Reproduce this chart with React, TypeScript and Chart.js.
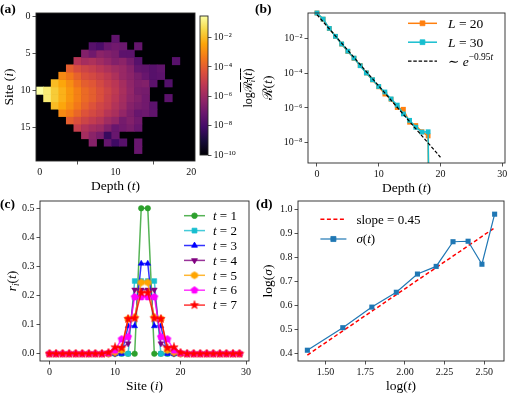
import React, { useEffect, useRef } from 'react';
import { Chart, registerables } from 'chart.js';
import { drawPoint } from 'chart.js/helpers';

Chart.register(...registerables);

// ================= DATA =================
// Panel (a): heatmap of log10 R_i(t); rows = site i, columns = depth t; null = below 1e-10
const N = null;
const depthCols = [0, 1, 2, 3, 4, 5, 6, 7, 8, 9, 10, 11, 12, 13, 14, 15, 16, 17, 18, 19, 20];
const siteRows = [0, 1, 2, 3, 4, 5, 6, 7, 8, 9, 10, 11, 12, 13, 14, 15, 16, 17, 18, 19];
const heatLog10: (number | null)[][] = [
  [N, N, N, N, N, N, N, N, N, N, N, N, N, N, N, N, N, N, N, N, N],
  [N, N, N, N, N, N, N, N, N, N, N, N, N, N, N, N, N, N, N, N, N],
  [N, N, N, N, N, N, N, N, N, N, N, N, N, N, N, N, N, N, N, N, N],
  [N, N, N, N, N, N, N, N, N, N, -7.4, N, N, N, N, N, N, N, N, N, N],
  [N, N, N, N, N, N, N, -7.6, -7.9, -7.2, -7.0, -7.1, N, -7.3, N, N, N, N, N, N, N],
  [N, N, N, N, N, N, -6.6, -7.0, -6.4, -6.6, -6.8, -7.5, -7.5, N, N, N, N, N, N, N, N],
  [N, N, N, N, N, -5.4, -5.8, -5.6, -5.9, -6.2, -6.6, -6.4, -6.9, -7.6, N, N, N, N, -7.6, N, N],
  [N, N, N, N, -4.0, -4.5, -4.8, -5.0, -5.3, -5.6, -5.9, -6.1, -6.5, -7.3, -7.4, -7.6, -7.4, N, N, N, N],
  [N, N, N, -3.0, -3.4, -3.9, -4.4, -4.6, -4.9, -5.2, -5.6, -6.1, -6.4, -6.8, -7.2, -7.6, -7.5, N, N, N, N],
  [N, N, -2.0, -2.4, -2.9, -3.5, -4.0, -4.2, -4.6, -5.0, -5.3, -5.8, -6.3, -6.7, -6.6, -7.5, N, -7.7, N, N, N],
  [-0.52, -1.0, -1.7, -2.2, -2.7, -3.2, -3.7, -4.0, -4.4, -4.8, -5.2, -5.7, -6.2, -6.8, -6.9, N, N, N, N, N, N],
  [N, -1.0, -1.7, -2.2, -2.7, -3.2, -3.7, -4.0, -4.4, -4.9, -5.3, -5.8, -6.3, -6.6, -7.0, N, N, -7.5, N, N, N],
  [N, N, -2.0, -2.4, -2.9, -3.4, -3.9, -4.3, -4.7, -5.0, -5.5, -5.9, -6.5, -6.8, -7.0, -7.5, N, N, N, N, N],
  [N, N, N, -3.0, -3.3, -3.8, -4.3, -4.6, -4.9, -5.4, -5.7, -6.2, -6.7, -7.2, -7.1, -7.4, N, N, N, N, N],
  [N, N, N, N, -4.0, -4.4, -4.8, -5.1, -5.4, -5.9, -6.2, -6.9, -6.6, -7.0, N, N, N, N, N, N, N],
  [N, N, N, N, N, -5.0, -5.5, -5.8, -6.0, -6.6, -7.2, -7.0, -6.8, -7.2, N, N, N, N, N, N, N],
  [N, N, N, N, N, N, -5.8, -6.4, -6.8, -8.3, -7.2, N, N, N, N, N, N, N, N, N, N],
  [N, N, N, N, N, N, N, -6.5, N, -7.3, -8.2, -7.6, N, -7.2, N, N, N, N, N, N, N],
  [N, N, N, N, N, N, N, N, N, N, N, N, N, -7.2, N, N, N, N, N, N, N],
  [N, N, N, N, N, N, N, N, N, N, N, N, N, N, N, N, N, N, N, N, N],
];
const heatXTicks = [0, 10, 20];
const heatYTicks = [0, 5, 10, 15];
const cbarMin = 1e-10;
const cbarMax = 0.3;
const cbarTicks = [1e-10, 1e-8, 1e-6, 1e-4, 1e-2];

// Panel (b): R(t)
const depthT = [0, 1, 2, 3, 4, 5, 6, 7, 8, 9, 10, 11, 12, 13, 14, 15, 16, 17, 18, 19];
const rL20 = [0.309, 0.135, 0.0389, 0.0138, 4.9e-3, 1.86e-3, 7.41e-4, 2.82e-4, 1.05e-4, 4.17e-5, 1.66e-5, 6.31e-6, 3.16e-6, 1.05e-6, 8.32e-7, 1.48e-7, 9.55e-8, 4.17e-8, 2.4e-8, 0];
const rL30 = [0.309, 0.138, 0.0398, 0.0138, 5.01e-3, 1.91e-3, 7.59e-4, 2.75e-4, 1.05e-4, 4.27e-5, 1.74e-5, 8.32e-6, 3.31e-6, 1.45e-6, 4.47e-7, 1.91e-7, 7.59e-8, 3.98e-8, 4.17e-8, 0];
const fitT = [0, 20];
const fitR = [0.25, 1.4e-9];
const bXTicks = [0, 10, 20, 30];
const bYTicks = [1e-8, 1e-6, 1e-4, 1e-2];

// Panel (c): r_i(t)
const sites = [0, 1, 2, 3, 4, 5, 6, 7, 8, 9, 10, 11, 12, 13, 14, 15, 16, 17, 18, 19, 20, 21, 22, 23, 24, 25, 26, 27, 28, 29];
const rT1 = [0, 0, 0, 0, 0, 0, 0, 0, 0, 0, 0, 0, 0, 0, 0.5, 0.5, 0, 0, 0, 0, 0, 0, 0, 0, 0, 0, 0, 0, 0, 0];
const rT2 = [0, 0, 0, 0, 0, 0, 0, 0, 0, 0, 0, 0, 0, 0.25, 0.25, 0.25, 0.25, 0, 0, 0, 0, 0, 0, 0, 0, 0, 0, 0, 0, 0];
const rT3 = [0, 0, 0, 0, 0, 0, 0, 0, 0, 0, 0, 0, 0.095, 0.095, 0.31, 0.31, 0.095, 0.095, 0, 0, 0, 0, 0, 0, 0, 0, 0, 0, 0, 0];
const rT4 = [0, 0, 0, 0, 0, 0, 0, 0, 0, 0, 0, 0.02, 0.035, 0.22, 0.22, 0.22, 0.22, 0.035, 0.02, 0, 0, 0, 0, 0, 0, 0, 0, 0, 0, 0];
const rT5 = [0, 0, 0, 0, 0, 0, 0, 0, 0, 0, 0.005, 0.012, 0.12, 0.125, 0.245, 0.245, 0.125, 0.12, 0.012, 0.005, 0, 0, 0, 0, 0, 0, 0, 0, 0, 0];
const rT6 = [0, 0, 0, 0, 0, 0, 0, 0, 0, 0.002, 0.012, 0.05, 0.058, 0.195, 0.195, 0.195, 0.195, 0.058, 0.05, 0.012, 0.002, 0, 0, 0, 0, 0, 0, 0, 0, 0];
const rT7 = [0, 0, 0, 0, 0, 0, 0, 0, 0, 0.004, 0.022, 0.02, 0.12, 0.122, 0.21, 0.21, 0.122, 0.12, 0.02, 0.022, 0.004, 0, 0, 0, 0, 0, 0, 0, 0, 0];
const cXTicks = [0, 10, 20, 30];
const cYTicks = [0, 0.1, 0.2, 0.3, 0.4, 0.5];

// Panel (d): log(sigma) vs log(t)
const logT = [1.386, 1.609, 1.792, 1.946, 2.079, 2.197, 2.303, 2.398, 2.485, 2.565];
const logSigma = [0.413, 0.507, 0.593, 0.655, 0.731, 0.763, 0.866, 0.868, 0.772, 0.981];
const slopeX = [1.386, 2.565];
const slopeY = [0.393, 0.924];
const dXTicks = [1.5, 1.75, 2.0, 2.25, 2.5];
const dYTicks = [0.4, 0.5, 0.6, 0.7, 0.8, 0.9, 1.0];

// ================= STYLE / HELPERS =================
const FONT = '"Liberation Serif", "DejaVu Serif", serif';
const INFERNO = ['#000004', '#160b39', '#420a68', '#6a176e', '#932667', '#bc3754', '#dd513a', '#f37819', '#fca50a', '#f6d746', '#fcffa4'];

function hexToRgb(h: string) {
  return [parseInt(h.slice(1, 3), 16), parseInt(h.slice(3, 5), 16), parseInt(h.slice(5, 7), 16)];
}
function inferno(t: number) {
  const tt = Math.max(0, Math.min(1, t));
  const s = tt * 10;
  const i = Math.min(9, Math.floor(s));
  const f = s - i;
  const a = hexToRgb(INFERNO[i]);
  const b = hexToRgb(INFERNO[i + 1]);
  const c = a.map((v, k) => Math.round(v + (b[k] - v) * f));
  return `rgb(${c[0]},${c[1]},${c[2]})`;
}
const lmin = Math.log10(cbarMin);
const lmax = Math.log10(cbarMax);
const normLog = (l: number) => (l - lmin) / (lmax - lmin);

const SUP: Record<string, string> = { '-': '⁻', '0': '⁰', '1': '¹', '2': '²', '3': '³', '4': '⁴', '5': '⁵', '6': '⁶', '7': '⁷', '8': '⁸', '9': '⁹' };
const pow10Label = (v: number) => '10' + String(Math.round(Math.log10(v))).split('').map((c) => SUP[c]).join('');

type Part = { t: string; it?: boolean; sup?: boolean };
function drawRich(ctx: CanvasRenderingContext2D, parts: Part[], x: number, yBase: number, size: number) {
  let cx = x;
  ctx.textBaseline = 'alphabetic';
  ctx.textAlign = 'left';
  for (const p of parts) {
    const fs = p.sup ? size * 0.7 : size;
    ctx.font = `${p.it ? 'italic ' : ''}${fs}px ${FONT}`;
    ctx.fillText(p.t, cx, yBase + (p.sup ? -size * 0.4 : 0));
    cx += ctx.measureText(p.t).width;
  }
}

type LegendItem = { parts: Part[]; color: string; width: number; dash?: number[]; marker?: { style: any; radius: number; rotation?: number; color: string } };
function legendPlugin(items: LegendItem[], cfg: { x0: number; x1: number; xt: number; y0: number; dy: number; size: number }) {
  return {
    id: 'customLegend',
    afterDatasetsDraw(chart: any) {
      const { ctx, chartArea: a } = chart;
      ctx.save();
      items.forEach((it, i) => {
        const y = a.top + cfg.y0 + i * cfg.dy;
        ctx.strokeStyle = it.color;
        ctx.lineWidth = it.width;
        ctx.setLineDash(it.dash || []);
        ctx.beginPath();
        ctx.moveTo(a.left + cfg.x0, y);
        ctx.lineTo(a.left + cfg.x1, y);
        ctx.stroke();
        ctx.setLineDash([]);
        if (it.marker) {
          ctx.fillStyle = it.marker.color;
          ctx.strokeStyle = it.marker.color;
          ctx.lineWidth = 0.8;
          drawPoint(ctx, { pointStyle: it.marker.style, radius: it.marker.radius, rotation: it.marker.rotation || 0, borderWidth: 0.8 } as any, a.left + (cfg.x0 + cfg.x1) / 2, y);
        }
        ctx.fillStyle = '#000';
        drawRich(ctx, it.parts, a.left + cfg.xt, y + cfg.size * 0.33, cfg.size);
      });
      ctx.restore();
    },
  };
}

const framePlugin = {
  id: 'frame',
  afterDraw(chart: any) {
    const { ctx, chartArea: a } = chart;
    ctx.save();
    ctx.strokeStyle = '#262626';
    ctx.lineWidth = 0.9;
    ctx.strokeRect(a.left, a.top, a.right - a.left, a.bottom - a.top);
    ctx.restore();
  },
};

function polyMarker(color: string, n: number, rOuter: number, rInner = 0) {
  const size = 10;
  const cv = document.createElement('canvas');
  cv.width = size;
  cv.height = size;
  const g = cv.getContext('2d')!;
  g.fillStyle = color;
  g.strokeStyle = color;
  g.lineWidth = 0.6;
  const pts = rInner ? 2 * n : n;
  g.beginPath();
  for (let k = 0; k < pts; k++) {
    const r = rInner && k % 2 ? rInner : rOuter;
    const ang = -Math.PI / 2 + (k * 2 * Math.PI) / pts;
    const px = size / 2 + r * Math.cos(ang);
    const py = size / 2 + r * Math.sin(ang);
    if (k) g.lineTo(px, py);
    else g.moveTo(px, py);
  }
  g.closePath();
  g.fill();
  g.stroke();
  return cv;
}

const tickFont = { family: FONT, size: 10 };
function axis(extra: any, ticksVals: number[], fmt: (v: number) => string, fitKey: 'width' | 'height', fitVal: number) {
  return {
    ...extra,
    afterBuildTicks: (s: any) => {
      s.ticks = ticksVals.map((v) => ({ value: v }));
    },
    afterFit: (s: any) => {
      s[fitKey] = fitVal;
    },
    ticks: { font: tickFont, color: '#111', padding: 2, autoSkip: false, maxRotation: 0, callback: (v: any) => fmt(Number(v)) },
    grid: { display: true, drawOnChartArea: false, drawTicks: true, tickLength: 3.5, color: '#262626', lineWidth: 0.8 },
    border: { display: false },
  };
}

// Frames (page coords): [left, top, right, bottom]
const FA = [36, 13, 195, 161];
const FCB = [200, 16, 208, 157];
const FB = [308, 13, 505, 163];
const FC = [40, 201, 249, 361];
const FD = [298, 201, 504, 361];

type Box = { left: number; top: number; width: number; height: number; pad: { left: number; top: number; right: number; bottom: number } };
function box(f: number[], padL: number, padT: number, padR: number, padB: number): Box {
  return { left: f[0] - padL, top: f[1] - padT, width: f[2] - f[0] + padL + padR, height: f[3] - f[1] + padT + padB, pad: { left: padL, top: padT, right: padR, bottom: padB } };
}
const BA = box(FA, 36, 8, 12, 22);
const BCB = box(FCB, 4, 8, 40, 6);
const BB = box(FB, 40, 8, 9, 22);
const BC = box(FC, 38, 8, 10, 22);
const BD = box(FD, 40, 8, 10, 22);

const baseOpts = {
  responsive: false,
  animation: false as const,
  devicePixelRatio: 1,
  plugins: { legend: { display: false }, tooltip: { enabled: false } },
  events: [] as any[],
};

const withAlpha = (hex: string, a: number) => {
  const c = hexToRgb(hex);
  return `rgba(${c[0]},${c[1]},${c[2]},${a})`;
};

export default function App() {
  const refA = useRef<HTMLCanvasElement>(null);
  const refCB = useRef<HTMLCanvasElement>(null);
  const refB = useRef<HTMLCanvasElement>(null);
  const refC = useRef<HTMLCanvasElement>(null);
  const refD = useRef<HTMLCanvasElement>(null);

  useEffect(() => {
    Chart.defaults.font.family = FONT;
    const charts: Chart[] = [];

    // ---------- (a) heatmap ----------
    const heatDatasets: any[] = [];
    heatLog10.forEach((row, r) => {
      const data: any[] = [];
      const colors: string[] = [];
      row.forEach((v, c) => {
        if (v === null) return;
        data.push({ x: depthCols[c], y: [siteRows[r] - 0.5, siteRows[r] + 0.5] });
        colors.push(inferno(normLog(v)));
      });
      if (data.length) {
        heatDatasets.push({ data, backgroundColor: colors, borderWidth: 0, grouped: false, barPercentage: 1, categoryPercentage: 1 });
      }
    });
    const blackBg = {
      id: 'blackBg',
      beforeDatasetsDraw(chart: any) {
        const { ctx, chartArea: a } = chart;
        ctx.save();
        ctx.fillStyle = '#000004';
        ctx.fillRect(a.left, a.top, a.right - a.left, a.bottom - a.top);
        ctx.restore();
      },
    };
    charts.push(
      new Chart(refA.current!, {
        type: 'bar',
        data: { datasets: heatDatasets },
        options: {
          ...baseOpts,
          layout: { padding: { left: 0, top: BA.pad.top, right: BA.pad.right, bottom: 0 } },
          scales: {
            x: axis({ type: 'linear', min: -0.5, max: 20.5, offset: false }, heatXTicks, (v) => String(v), 'height', BA.pad.bottom),
            y: axis({ type: 'linear', min: -0.5, max: 19.5, reverse: true }, heatYTicks, (v) => String(v), 'width', BA.pad.left),
          },
        } as any,
        plugins: [blackBg, framePlugin],
      })
    );

    // ---------- colorbar ----------
    const gradPlugin = {
      id: 'grad',
      beforeDatasetsDraw(chart: any) {
        const { ctx, chartArea: a } = chart;
        const g = ctx.createLinearGradient(0, a.bottom, 0, a.top);
        INFERNO.forEach((c, i) => g.addColorStop(i / 10, c));
        ctx.save();
        ctx.fillStyle = g;
        ctx.fillRect(a.left, a.top, a.right - a.left, a.bottom - a.top);
        ctx.restore();
      },
    };
    charts.push(
      new Chart(refCB.current!, {
        type: 'scatter',
        data: { datasets: [{ data: [] }] },
        options: {
          ...baseOpts,
          layout: { padding: { left: BCB.pad.left, top: BCB.pad.top, right: 0, bottom: BCB.pad.bottom } },
          scales: {
            x: { display: false, min: 0, max: 1 },
            y: axis({ type: 'logarithmic', position: 'right', min: cbarMin, max: cbarMax }, cbarTicks, pow10Label, 'width', BCB.pad.right),
          },
        } as any,
        plugins: [gradPlugin, framePlugin],
      })
    );

    // ---------- (b) R(t) ----------
    const clipZero = (v: number) => (v > 0 ? v : 1e-40);
    const sq = (color: string) => ({ style: 'rect', radius: 3.4, color });
    charts.push(
      new Chart(refB.current!, {
        type: 'line',
        data: {
          datasets: [
            {
              data: depthT.map((t, i) => ({ x: t, y: clipZero(rL20[i]) })),
              borderColor: '#ff7f0e', backgroundColor: '#ff7f0e', borderWidth: 1.5,
              pointStyle: 'rect', pointRadius: rL20.map((v) => (v > 0 ? 3.4 : 0)), pointBorderWidth: 0,
              order: 0, clip: { left: 5, top: 5, right: 5, bottom: 0 },
            },
            {
              data: depthT.map((t, i) => ({ x: t, y: clipZero(rL30[i]) })),
              borderColor: '#17becf', backgroundColor: '#17becf', borderWidth: 1.5,
              pointStyle: 'rect', pointRadius: rL30.map((v) => (v > 0 ? 3.4 : 0)), pointBorderWidth: 0,
              order: -1, clip: { left: 5, top: 5, right: 5, bottom: 0 },
            },
            {
              data: fitT.map((t, i) => ({ x: t, y: fitR[i] })),
              borderColor: '#000', borderWidth: 1.2, borderDash: [3.5, 1.8], pointRadius: 0, order: -2,
            },
          ],
        },
        options: {
          ...baseOpts,
          layout: { padding: { left: 0, top: BB.pad.top, right: BB.pad.right, bottom: 0 } },
          scales: {
            x: axis({ type: 'linear', min: -1.45, max: 30.45 }, bXTicks, (v) => String(v), 'height', BB.pad.bottom),
            y: axis({ type: 'logarithmic', min: 6.5e-10, max: 0.309 }, bYTicks, pow10Label, 'width', BB.pad.left),
          },
        } as any,
        plugins: [
          framePlugin,
          legendPlugin(
            [
              { parts: [{ t: 'L', it: true }, { t: ' = 20' }], color: '#ff7f0e', width: 1.5, marker: sq('#ff7f0e') },
              { parts: [{ t: 'L', it: true }, { t: ' = 30' }], color: '#17becf', width: 1.5, marker: sq('#17becf') },
              { parts: [{ t: '∼ ' }, { t: 'e', it: true }, { t: '−0.95', sup: true }, { t: 't', it: true, sup: true }], color: '#000', width: 1.2, dash: [3.5, 1.8] },
            ],
            { x0: 100, x1: 129, xt: 140, y0: 10.3, dy: 18.9, size: 13.5 }
          ),
        ],
      })
    );

    // ---------- (c) r_i(t) ----------
    const hex = polyMarker('#ffa500', 6, 3.6);
    const pent = polyMarker('#ff00ff', 5, 3.7);
    const star = polyMarker('#ff0000', 5, 4.4, 1.8);
    const cSeries = [
      { name: '1', vals: rT1, color: '#2ca02c', style: 'circle' as any, radius: 2.8, rot: 0 },
      { name: '2', vals: rT2, color: '#17becf', style: 'rect' as any, radius: 3.4, rot: 0 },
      { name: '3', vals: rT3, color: '#0000ff', style: 'triangle' as any, radius: 3.4, rot: 0 },
      { name: '4', vals: rT4, color: '#800080', style: 'triangle' as any, radius: 3.4, rot: 180 },
      { name: '5', vals: rT5, color: '#ffa500', style: hex as any, radius: 3.5, rot: 0 },
      { name: '6', vals: rT6, color: '#ff00ff', style: pent as any, radius: 3.5, rot: 0 },
      { name: '7', vals: rT7, color: '#ff0000', style: star as any, radius: 3.5, rot: 0 },
    ];
    charts.push(
      new Chart(refC.current!, {
        type: 'line',
        data: {
          datasets: cSeries.map((s, i) => ({
            data: sites.map((x, k) => ({ x, y: s.vals[k] })),
            borderColor: withAlpha(s.color, 0.8),
            backgroundColor: s.color,
            pointBackgroundColor: s.color,
            pointBorderColor: s.color,
            borderWidth: 1.5,
            pointStyle: s.style,
            pointRadius: s.radius,
            pointRotation: s.rot,
            pointBorderWidth: 0.5,
            order: -i,
          })),
        },
        options: {
          ...baseOpts,
          layout: { padding: { left: 0, top: BC.pad.top, right: BC.pad.right, bottom: 0 } },
          scales: {
            x: axis({ type: 'linear', min: -1.45, max: 30.45 }, cXTicks, (v) => String(v), 'height', BC.pad.bottom),
            y: axis({ type: 'linear', min: -0.025, max: 0.525 }, cYTicks, (v) => v.toFixed(1), 'width', BC.pad.left),
          },
        } as any,
        plugins: [
          framePlugin,
          legendPlugin(
            cSeries.map((s) => ({
              parts: [{ t: 't', it: true }, { t: ' = ' + s.name }],
              color: withAlpha(s.color, 0.8),
              width: 1.5,
              marker: { style: s.style, radius: s.radius, rotation: s.rot, color: s.color },
            })),
            { x0: 144, x1: 165, xt: 173, y0: 14.7, dy: 14.9, size: 13 }
          ),
        ],
      })
    );

    // ---------- (d) log sigma ----------
    charts.push(
      new Chart(refD.current!, {
        type: 'line',
        data: {
          datasets: [
            {
              data: slopeX.map((x, i) => ({ x, y: slopeY[i] })),
              borderColor: '#ff0000', borderWidth: 1.5, borderDash: [4, 2.5], pointRadius: 0, order: 0,
            },
            {
              data: logT.map((x, i) => ({ x, y: logSigma[i] })),
              borderColor: '#1f77b4', backgroundColor: '#1f77b4', borderWidth: 1.2,
              pointStyle: 'rect', pointRadius: 3.6, pointBorderWidth: 0, order: -1,
            },
          ],
        },
        options: {
          ...baseOpts,
          layout: { padding: { left: 0, top: BD.pad.top, right: BD.pad.right, bottom: 0 } },
          scales: {
            x: axis({ type: 'linear', min: 1.327, max: 2.624 }, dXTicks, (v) => v.toFixed(2), 'height', BD.pad.bottom),
            y: axis({ type: 'linear', min: 0.368, max: 1.036 }, dYTicks, (v) => v.toFixed(1), 'width', BD.pad.left),
          },
        } as any,
        plugins: [
          framePlugin,
          legendPlugin(
            [
              { parts: [{ t: 'slope = 0.45' }], color: '#ff0000', width: 1.5, dash: [4, 2.5] },
              { parts: [{ t: 'σ', it: true }, { t: '(' }, { t: 't', it: true }, { t: ')' }], color: '#1f77b4', width: 1.2, marker: { style: 'rect', radius: 3.6, color: '#1f77b4' } },
            ],
            { x0: 22.4, x1: 48.4, xt: 58.4, y0: 18.3, dy: 19.7, size: 13 }
          ),
        ],
      })
    );

    return () => charts.forEach((c) => c.destroy());
  }, []);

  const cv = (ref: any, b: Box) => (
    <canvas ref={ref} width={b.width} height={b.height} style={{ position: 'absolute', left: b.left, top: b.top, width: b.width, height: b.height }} />
  );
  const lbl = (x: number, y: number, content: React.ReactNode, rot = 0, size = 13.5) => (
    <div style={{ position: 'absolute', left: x, top: y, transform: `translate(-50%,-50%) rotate(${rot}deg)`, fontSize: size, whiteSpace: 'nowrap', lineHeight: 1, fontFamily: FONT, color: '#000' }}>{content}</div>
  );
  const panel = (x: number, y: number, t: string) => (
    <div style={{ position: 'absolute', left: x, top: y, fontSize: 13.5, fontWeight: 'bold', fontFamily: FONT, lineHeight: 1, color: '#000' }}>{t}</div>
  );
  const sub = (c: React.ReactNode) => <sub style={{ fontSize: '0.7em', verticalAlign: '-0.3em', lineHeight: 0 }}>{c}</sub>;

  return (
    <div style={{ position: 'fixed', left: 0, top: 0, width: 515, height: 397, background: '#fff', overflow: 'hidden' }}>
      {cv(refA, BA)}
      {cv(refCB, BCB)}
      {cv(refB, BB)}
      {cv(refC, BC)}
      {cv(refD, BD)}
      {panel(0, 2, '(a)')}
      {panel(255, 2, '(b)')}
      {panel(0, 197, '(c)')}
      {panel(256, 197, '(d)')}
      {lbl(115.5, 186, <span>Depth (<i>t</i>)</span>)}
      {lbl(9, 87, <span>Site (<i>i</i>)</span>, -90)}
      {lbl(248, 88, <span>log<span style={{ textDecoration: 'overline' }}>ℛ{sub(<i>i</i>)}(<i>t</i>)</span></span>, -90, 12)}
      {lbl(406.5, 188, <span>Depth (<i>t</i>)</span>)}
      {lbl(268, 88, <span>ℛ(<i>t</i>)</span>, -90)}
      {lbl(144.5, 386, <span>Site (<i>i</i>)</span>)}
      {lbl(12, 281, <span><i>r</i>{sub(<i>i</i>)}(<i>t</i>)</span>, -90)}
      {lbl(401, 386, <span>log(<i>t</i>)</span>)}
      {lbl(268, 281, <span>log(<i>σ</i>)</span>, -90)}
    </div>
  );
}
